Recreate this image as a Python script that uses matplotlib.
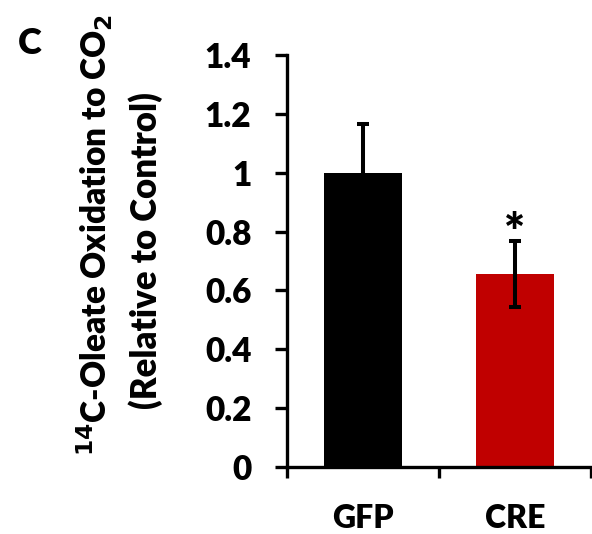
import matplotlib
matplotlib.use("Agg")
import matplotlib.pyplot as plt
import numpy as np

categories = ["GFP", "CRE"]
values = [1.0, 0.656]
errors = [0.167, 0.112]
colors = ["#000000", "#C00000"]
yticks = [0, 0.2, 0.4, 0.6, 0.8, 1.0, 1.2, 1.4]
ytick_labels = ["0", "0.2", "0.4", "0.6", "0.8", "1", "1.2", "1.4"]
sig_marks = ["", "*"]
sig_y = [None, 0.79]

W = 'heavy'
plt.rcParams['font.family'] = ['Lato', 'DejaVu Sans']
plt.rcParams['font.weight'] = W
plt.rcParams['mathtext.default'] = 'bf'

fig = plt.figure(figsize=(5.92, 5.34), dpi=100)
ax = fig.add_axes([287/592, 1-467/534, (591-287)/592, (467-55)/534])

x = np.arange(len(categories))
ax.bar(x, values, width=0.51, color=colors, zorder=2)
ax.errorbar(x, values, yerr=errors, fmt='none', ecolor='black', elinewidth=2.9,
            capsize=4.3, capthick=2.9, zorder=3)
for xi, m, sy in zip(x, sig_marks, sig_y):
    if m:
        ax.text(xi, sy, m, ha='center', va='center', fontsize=36, fontweight=W)

ax.set_xlim(-0.5, len(categories) - 0.5)
ax.set_ylim(0, 1.4)
ax.set_yticks(yticks)
ax.set_yticklabels(ytick_labels, fontsize=24, fontweight=W)
ax.set_xticks(x)
ax.set_xticklabels(categories, fontsize=23, fontweight=W)
ax.tick_params(axis='x', length=0, pad=27)
ax.tick_params(axis='y', length=8.6, width=2.4, pad=17)
ax.set_xticks([-0.5, 0.5, 1.5], minor=True)
ax.tick_params(axis='x', which='minor', length=8, width=2.4, direction='out')

for s in ['top', 'right']:
    ax.spines[s].set_visible(False)
for s in ['left', 'bottom']:
    ax.spines[s].set_linewidth(2.4)

fig.text(95/592, 1-235/534, "$^{14}$C-Oleate Oxidation to CO$_2$", rotation=90,
         ha='center', va='center', fontsize=24, fontweight=W)
fig.text(146/592, 1-251/534, "(Relative to Control)", rotation=90,
         ha='center', va='center', fontsize=25, fontweight=W)

fig.text(30/592, 1-44/534, "C", fontsize=26, fontweight=W, ha='center', va='center')

fig.savefig("out.png", dpi=100)
